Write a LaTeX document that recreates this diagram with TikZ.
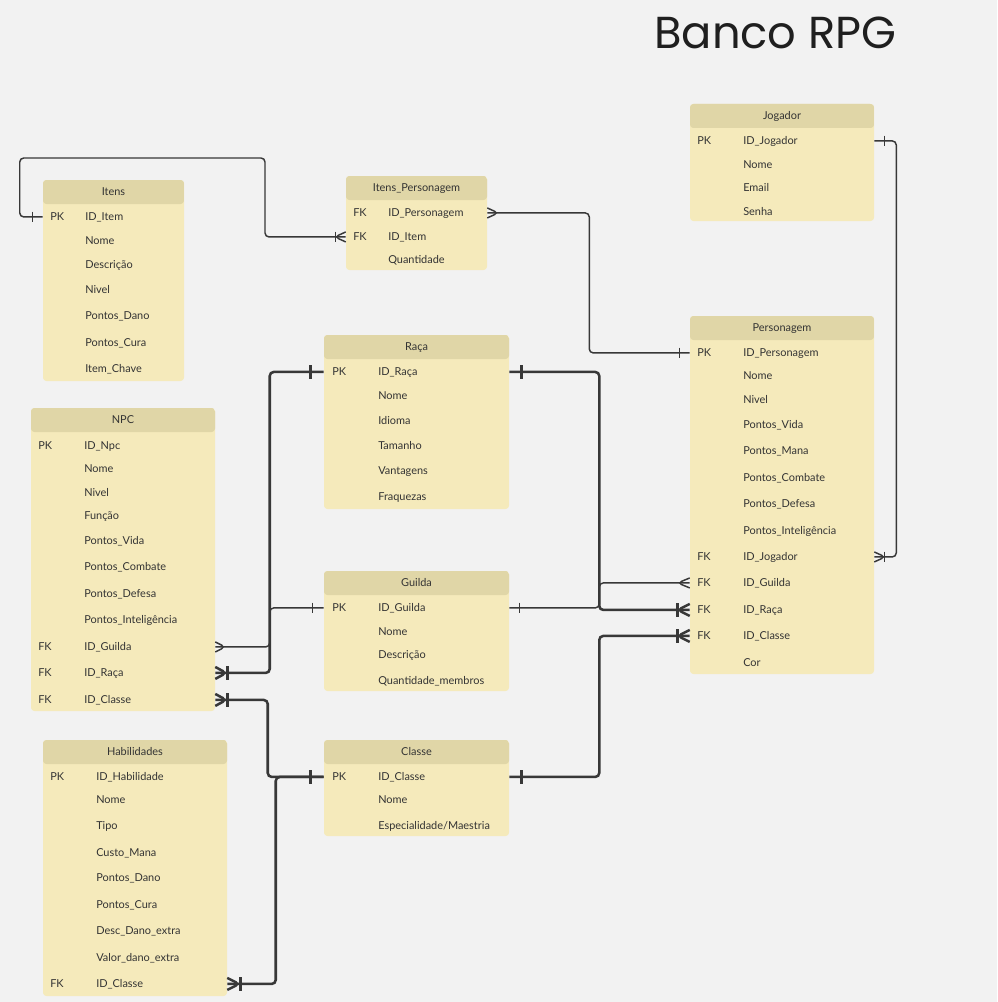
\documentclass[tikz,border=0pt]{standalone}
\usepackage{fontspec}
\setmainfont{Lato}
\newfontfamily\poppins{Poppins}
\usetikzlibrary{calc,fit}
\definecolor{fundo}{HTML}{F2F2F2}
\definecolor{cabeca}{HTML}{E0D6A7}
\definecolor{corpo}{HTML}{F5EABB}
\definecolor{texto}{HTML}{333333}
\definecolor{linha}{HTML}{383838}
\def\barra[#1](#2)(#3:#4){\draw[#1] ([xshift=#3,yshift=#4]#2) -- ([xshift=#3,yshift=-#4]#2);}
\def\pe[#1](#2)(#3:#4){\draw[#1] ([yshift=#4]#2) -- ([xshift=#3]#2) -- ([yshift=-#4]#2);}
\tikzset{
  tabela/.style={fill=corpo, rounded corners=2.5pt, inner sep=0pt,
    path picture={\fill[cabeca] (path picture bounding box.north west) rectangle ([yshift=-18pt]path picture bounding box.north east);}},
  letra/.style={font=\fontsize{8.2}{10}\selectfont, text=texto, inner sep=0pt, text height=5.9pt, text depth=0pt},
  titulo/.style={letra},
  campo/.style={letra, anchor=west, yshift=-0.7pt},
  fina/.style={draw=linha, line width=1.1pt, rounded corners=3pt},
  grossa/.style={draw=linha, line width=1.9pt, rounded corners=3pt},
}
\begin{document}
\begin{tikzpicture}[x=0.75pt, y=-0.75pt]
	%%%%% FUNDO %%%%%
	\fill[fundo] (0,0) rectangle (997,1002);
	\node[anchor=base west, inner sep=0pt, text=black!88, font=\poppins\fontsize{33.6}{37}\selectfont] (banco) at (654,49) {Banco RPG};
	
	%%%%% ITENS %%%%%
	\node[tabela, fit={(43,180) (184,381)}] (itens) {};
	\node[titulo] (itens-t) at ([yshift=-9pt]itens.north) {Itens};
	\node[campo] (itens-k1) at (50,216) {PK};
	\node[campo] (itens-id) at (85,216) {ID\_Item};
	\foreach \y/\t [count=\i] in {240/Nome, 264/Descrição, 289/Nivel, 315/Pontos\_Dano, 342/Pontos\_Cura, 368/Item\_Chave}
		\node[campo] (itens-c\i) at (85,\y) {\t};
	
	%%%%% ITENS_PERSONAGEM %%%%%
	\node[tabela, fit={(346,176) (487,270)}] (ip) {};
	\node[titulo] (ip-t) at ([yshift=-9pt]ip.north) {Itens\_Personagem};
	\node[campo] (ip-k1) at (353,212) {FK};
	\node[campo] (ip-pers) at (388,212) {ID\_Personagem};
	\node[campo] (ip-k2) at (353,236) {FK};
	\node[campo] (ip-item) at (388,236) {ID\_Item};
	\node[campo] (ip-c1) at (388,259) {Quantidade};
	
	%%%%% JOGADOR %%%%%
	\node[tabela, fit={(690,104) (874,221)}] (jog) {};
	\node[titulo] (jog-t) at ([yshift=-9pt]jog.north) {Jogador};
	\node[campo] (jog-k1) at (697,140) {PK};
	\node[campo] (jog-id) at (743,140) {ID\_Jogador};
	\foreach \y/\t [count=\i] in {164/Nome, 187/Email, 211/Senha}
		\node[campo] (jog-c\i) at (743,\y) {\t};
	
	%%%%% PERSONAGEM %%%%%
	\node[tabela, fit={(690,316) (874,674)}] (pers) {};
	\node[titulo] (pers-t) at ([yshift=-9pt]pers.north) {Personagem};
	\node[campo] (pers-k1) at (697,352) {PK};
	\node[campo] (pers-id) at (743,352) {ID\_Personagem};
	\foreach \y/\t [count=\i] in {375/Nome, 399/Nivel, 424/Pontos\_Vida, 450/Pontos\_Mana, 477/Pontos\_Combate, 503/Pontos\_Defesa, 530/Pontos\_Inteligência, 662/Cor}
		\node[campo] (pers-c\i) at (743,\y) {\t};
	\foreach \y in {556,582,609,635}
		\node[campo] (pers-k\y) at (697,\y) {FK};
	\node[campo] (pers-jog) at (743,556) {ID\_Jogador};
	\node[campo] (pers-guilda) at (743,582) {ID\_Guilda};
	\node[campo] (pers-raca) at (743,609) {ID\_Raça};
	\node[campo] (pers-classe) at (743,635) {ID\_Classe};
	
	%%%%% RACA %%%%%
	\node[tabela, fit={(324,335) (509,509)}] (raca) {};
	\node[titulo] (raca-t) at ([yshift=-9pt]raca.north) {Raça};
	\node[campo] (raca-k1) at (332,371) {PK};
	\node[campo] (raca-id) at (378,371) {ID\_Raça};
	\foreach \y/\t [count=\i] in {395/Nome, 420/Idioma, 445/Tamanho, 470/Vantagens, 496/Fraquezas}
		\node[campo] (raca-c\i) at (378,\y) {\t};
	
	%%%%% NPC %%%%%
	\node[tabela, fit={(31,408) (215,711)}] (npc) {};
	\node[titulo] (npc-t) at ([yshift=-9pt]npc.north) {NPC};
	\node[campo] (npc-k1) at (38,445) {PK};
	\node[campo] (npc-id) at (84,445) {ID\_Npc};
	\foreach \y/\t [count=\i] in {468/Nome, 492/Nivel, 515/Função, 540/Pontos\_Vida, 566/Pontos\_Combate, 593/Pontos\_Defesa, 619/Pontos\_Inteligência}
		\node[campo] (npc-c\i) at (84,\y) {\t};
	\foreach \y in {646,672,699}
		\node[campo] (npc-k\y) at (38,\y) {FK};
	\node[campo] (npc-guilda) at (84,646) {ID\_Guilda};
	\node[campo] (npc-raca) at (84,672) {ID\_Raça};
	\node[campo] (npc-classe) at (84,699) {ID\_Classe};
	
	%%%%% GUILDA %%%%%
	\node[tabela, fit={(324,571) (509,691)}] (guilda) {};
	\node[titulo] (guilda-t) at ([yshift=-9pt]guilda.north) {Guilda};
	\node[campo] (guilda-k1) at (332,607) {PK};
	\node[campo] (guilda-id) at (378,607) {ID\_Guilda};
	\foreach \y/\t [count=\i] in {631/Nome, 654/Descrição, 680/Quantidade\_membros}
		\node[campo] (guilda-c\i) at (378,\y) {\t};
	
	%%%%% CLASSE %%%%%
	\node[tabela, fit={(324,740) (509,836)}] (classe) {};
	\node[titulo] (classe-t) at ([yshift=-9pt]classe.north) {Classe};
	\node[campo] (classe-k1) at (332,776) {PK};
	\node[campo] (classe-id) at (378,776) {ID\_Classe};
	\node[campo] (classe-c1) at (378,799) {Nome};
	\node[campo] (classe-c2) at (378,825) {Especialidade/Maestria};
	
	%%%%% HABILIDADES %%%%%
	\node[tabela, fit={(43,740) (227,996)}] (hab) {};
	\node[titulo] (hab-t) at ([yshift=-9pt]hab.north) {Habilidades};
	\node[campo] (hab-k1) at (50,776) {PK};
	\node[campo] (hab-id) at (96,776) {ID\_Habilidade};
	\foreach \y/\t [count=\i] in {799/Nome, 825/Tipo, 852/Custo\_Mana, 877/Pontos\_Dano, 904/Pontos\_Cura, 930/Desc\_Dano\_extra, 957/Valor\_dano\_extra}
		\node[campo] (hab-c\i) at (96,\y) {\t};
	\node[campo] (hab-k2) at (50,983) {FK};
	\node[campo] (hab-classe) at (96,983) {ID\_Classe};
	
	%%%%% PONTAS %%%%%
	\coordinate (p-itens) at (itens-id -| itens.west);
	\coordinate (p-ip-item) at (ip-item -| ip.west);
	\coordinate (p-ip-pers) at (ip-pers -| ip.east);
	\coordinate (p-pers-pk) at (pers-id -| pers.west);
	\coordinate (p-jog) at (jog-id -| jog.east);
	\coordinate (p-pers-jog) at (pers-jog -| pers.east);
	\coordinate (p-raca-w) at (raca-id -| raca.west);
	\coordinate (p-raca-e) at (raca-id -| raca.east);
	\coordinate (p-guilda-w) at (guilda-id -| guilda.west);
	\coordinate (p-guilda-e) at (guilda-id -| guilda.east);
	\coordinate (p-classe-w) at (classe-id -| classe.west);
	\coordinate (p-classe-e) at (classe-id -| classe.east);
	\coordinate (p-pers-guilda) at (pers-guilda -| pers.west);
	\coordinate (p-pers-raca) at (pers-raca -| pers.west);
	\coordinate (p-pers-classe) at (pers-classe -| pers.west);
	\coordinate (p-npc-guilda) at (npc-guilda -| npc.east);
	\coordinate (p-npc-raca) at (npc-raca -| npc.east);
	\coordinate (p-npc-classe) at (npc-classe -| npc.east);
	\coordinate (p-hab-classe) at (hab-classe -| hab.east);
	
	%%%%% LIGACOES %%%%%
	% itens - itens_personagem
	\draw[fina] (p-itens) -- ++(-23,0) |- (265,158) |- (p-ip-item);
	\barra[fina](p-itens)(-7.5pt:4pt)
	\barra[fina](p-ip-item)(-7.5pt:4pt)
	\pe[fina](p-ip-item)(-8.25pt:3.75pt)
	% itens_personagem - personagem
	\draw[fina] (p-ip-pers) -- ++(102,0) |- (p-pers-pk);
	\pe[fina](p-ip-pers)(8.25pt:3.75pt)
	\barra[fina](p-pers-pk)(-7.5pt:4pt)
	% jogador - personagem
	\draw[fina] (p-jog) -- ++(22,0) |- (p-pers-jog);
	\barra[fina](p-jog)(7.5pt:4pt)
	\barra[fina](p-pers-jog)(7.5pt:4pt)
	\pe[fina](p-pers-jog)(8.25pt:3.75pt)
	% raca - npc / personagem
	\draw[grossa] (p-raca-w) -- ++(-54,0) |- (p-npc-raca);
	\draw[grossa] (p-raca-e) -- ++(90,0) |- (p-pers-raca);
	\barra[grossa](p-raca-w)(-9.75pt:5pt)
	\barra[grossa](p-raca-e)(9pt:5pt)
	\barra[grossa](p-npc-raca)(9pt:5pt)
	\pe[grossa](p-npc-raca)(8.25pt:4.5pt)
	\barra[grossa](p-pers-raca)(-9pt:5pt)
	\pe[grossa](p-pers-raca)(-9pt:4.5pt)
	% guilda - npc / personagem
	\draw[fina] (p-guilda-w) -- ++(-54,0) |- (p-npc-guilda);
	\draw[fina] (p-guilda-e) -- ++(90,0) |- (p-pers-guilda);
	\barra[fina](p-guilda-w)(-8.25pt:4pt)
	\barra[fina](p-guilda-e)(7.5pt:4pt)
	\pe[fina](p-npc-guilda)(7.5pt:3.75pt)
	\pe[fina](p-pers-guilda)(-9pt:3.75pt)
	% classe - npc / habilidades / personagem
	\draw[grossa] (p-classe-w) -- ++(-56,0) |- (p-npc-classe);
	\draw[grossa] (p-classe-w) -- ++(-48,0) |- (p-hab-classe);
	\draw[grossa] (p-classe-e) -- ++(90,0) |- (p-pers-classe);
	\barra[grossa](p-classe-w)(-9.75pt:5pt)
	\barra[grossa](p-classe-e)(9pt:5pt)
	\barra[grossa](p-npc-classe)(9pt:5pt)
	\pe[grossa](p-npc-classe)(8.25pt:4.5pt)
	\barra[grossa](p-hab-classe)(9.75pt:5pt)
	\pe[grossa](p-hab-classe)(9pt:4.5pt)
	\barra[grossa](p-pers-classe)(-9pt:5pt)
	\pe[grossa](p-pers-classe)(-9pt:4.5pt)
\end{tikzpicture}
\end{document}
